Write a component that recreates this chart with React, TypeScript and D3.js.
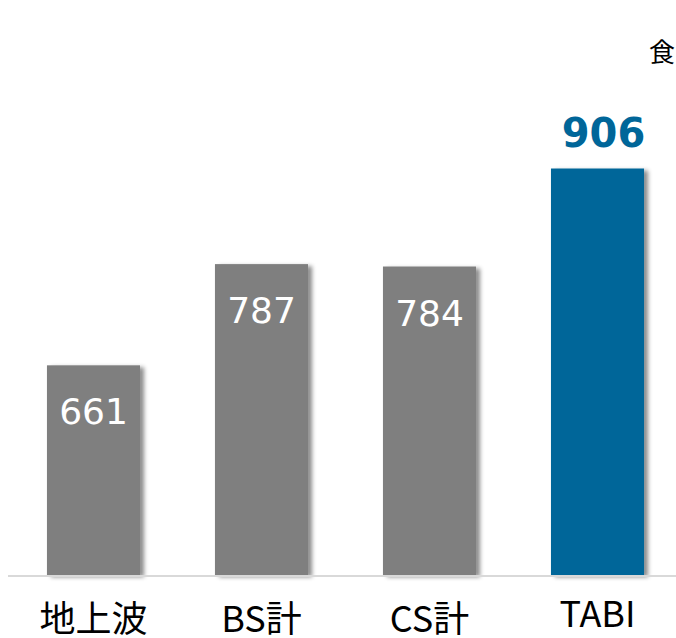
import React from "react";
import * as d3 from "d3";

const categories = ["地上波", "BS計", "CS計", "TABI"];
const values = [661, 787, 784, 906];
const highlight = [false, false, false, true];
const unitLabel = "食";

const W = 676;
const H = 638;

export default function App() {
  const x = d3
    .scaleBand<string>()
    .domain(categories)
    .range([9.5, 681.5])
    .paddingInner(0.446)
    .paddingOuter(0.223);
  const y = d3.scaleLinear().domain([400, 1000]).range([575, 93]);
  const gray = "#7f7f7f";
  const blue = "#006699";
  const font = "'DejaVu Sans', Verdana, sans-serif";
  const cjk = "'Noto Sans CJK JP', sans-serif";

  return (
    <svg
      width={W}
      height={H}
      style={{ position: "absolute", left: 0, top: 0, background: "#fff" }}
    >
      <defs>
        <filter id="sh" x="-20%" y="-20%" width="150%" height="140%">
          <feDropShadow dx="4" dy="2" stdDeviation="2" floodColor="#000" floodOpacity="0.45" />
        </filter>
      </defs>
      {categories.map((c, i) => {
        const bx = x(c)!;
        const bw = x.bandwidth();
        const top = y(values[i]);
        return (
          <g key={c}>
            <rect
              x={bx}
              y={top}
              width={bw}
              height={y(400) - top}
              fill={highlight[i] ? blue : gray}
              filter="url(#sh)"
            />
            {highlight[i] ? (
              <text
                x={bx + bw / 2 + 6}
                y={top - 22}
                textAnchor="middle"
                fontFamily={font}
                fontWeight="bold"
                fontSize={40}
                fill={blue}
              >
                {values[i]}
              </text>
            ) : (
              <text
                x={bx + bw / 2}
                y={top + 59}
                textAnchor="middle"
                fontFamily={font}
                fontSize={36}
                fill="#fff"
              >
                {values[i]}
              </text>
            )}
            <text
              x={bx + bw / 2}
              y={c === "TABI" ? 627 : 632}
              textAnchor="middle"
              fontFamily={cjk}
              fontSize={36}
              fill="#000"
            >
              {c}
            </text>
          </g>
        );
      })}
      <line x1={8} x2={676} y1={576} y2={576} stroke="#d9d9d9" strokeWidth={2} />
      <text x={675} y={62} textAnchor="end" fontFamily={cjk} fontSize={26} fill="#000">
        {unitLabel}
      </text>
    </svg>
  );
}
